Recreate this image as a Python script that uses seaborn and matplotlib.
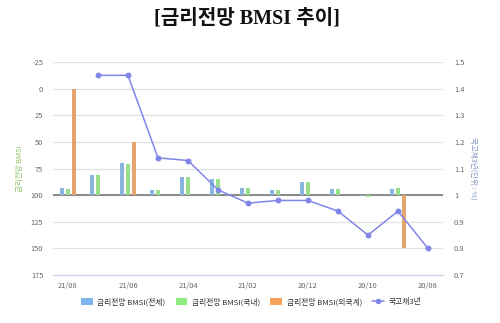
import matplotlib
matplotlib.use("Agg")
import matplotlib.pyplot as plt
import numpy as np
import pandas as pd
import seaborn as sns
from matplotlib.lines import Line2D
from matplotlib.patches import Patch

# Monthly survey points, newest first
months = ["21/08", "21/07", "21/06", "21/05", "21/04", "21/03", "21/02",
          "21/01", "20/12", "20/11", "20/10", "20/09", "20/08"]
bmsi_total = [93, 81, 70, 95, 83, 85, 93, 95, 88, 94, 101, 94, None]
bmsi_domestic = [94, 81, 71, 95, 83, 85, 93, 95, 88, 94, 102, 93, None]
bmsi_foreign = [0, 100, 50, 100, 100, 100, 100, 100, 100, 100, 100, 150, None]
ktb_3y = [None, 1.45, 1.45, 1.14, 1.13, 1.02, 0.97, 0.98, 0.98, 0.94, 0.85, 0.94, 0.80]

series_names = ["금리전망 BMSI(전체)", "금리전망 BMSI(국내)", "금리전망 BMSI(외국계)"]
line_name = "국고채3년"
left_ticks = [-25, 0, 25, 50, 75, 100, 125, 150, 175]
right_ticks = [0.7, 0.8, 0.9, 1.0, 1.1, 1.2, 1.3, 1.4, 1.5]
baseline = 100

bar_colors = ["#7cb5ec", "#90ed7d", "#f7a35c"]
line_color = "#8085e9"

sns.set_theme(style="white")
plt.rcParams["font.family"] = ["Noto Sans CJK KR", "DejaVu Sans"]

# Long-form table for the grouped bars; bars grow from the 100 baseline
rows = []
for name, vals in zip(series_names, [bmsi_total, bmsi_domestic, bmsi_foreign]):
    for m, v in zip(months, vals):
        if v is not None:
            rows.append({"month": m, "series": name, "value": v})
bars = pd.DataFrame(rows)
bars["height"] = bars["value"] - baseline

line_df = pd.DataFrame({"month": months, "rate": ktb_3y}).dropna()

fig = plt.figure(figsize=(5.0, 3.23), dpi=100)
ax = fig.add_axes([0.106, 0.1486, 0.78, 0.6594])

for t in left_ticks:
    ax.axhline(t, color="#e0e0e0", lw=0.9, zorder=0)
ax.axhline(baseline, color="#8a8a8a", lw=1.4, zorder=1.5)

sns.barplot(data=bars, x="month", y="height", hue="series", order=months,
            hue_order=series_names, palette=bar_colors, width=0.6, gap=0.22,
            errorbar=None, bottom=baseline, linewidth=0, zorder=2,
            legend=False, ax=ax)

ax.set_xlim(-0.5, len(months) - 0.5)
ax.set_ylim(175, -25)
ax.set_yticks(left_ticks)
ax.set_yticklabels([str(t) for t in left_ticks])
ax.set_xticks(range(0, len(months), 2))
ax.set_xticklabels(months[::2])
ax.set_xticks(np.arange(0.5, len(months), 2), minor=True)
ax.tick_params(axis="x", which="major", length=0, pad=5, labelsize=5.4, colors="#666666")
ax.tick_params(axis="x", which="minor", length=4, width=0.8, color="#ccd6eb")
ax.tick_params(axis="y", length=0, pad=7, labelsize=5.4, colors="#666666")
for s in ["top", "left", "right"]:
    ax.spines[s].set_visible(False)
ax.spines["bottom"].set_color("#ccd6eb")
ax.spines["bottom"].set_linewidth(0.9)
ax.set_xlabel("")
ax.set_ylabel("금리전망 BMSI", fontsize=5.4, color="#92c26a", labelpad=5)

ax2 = ax.twinx()
sns.pointplot(data=line_df, x="month", y="rate", order=months, color=line_color,
              markers="o", linestyles="-", errorbar=None, markersize=3.4,
              linewidth=1.1, ax=ax2)
ax2.set_xlim(-0.5, len(months) - 0.5)
ax2.set_ylim(0.7, 1.5)
ax2.set_yticks(right_ticks)
ax2.set_yticklabels(["1" if t == 1.0 else f"{t:g}" for t in right_ticks])
ax2.tick_params(axis="y", length=0, pad=8, labelsize=5.4, colors="#666666")
for s in ax2.spines.values():
    s.set_visible(False)
ax2.set_xlabel("")
ax2.set_ylabel("국고채3년(단위 : %)", fontsize=5.4, color="#7f95c0", rotation=270,
               labelpad=9)
ax2.grid(False)

handles = [Patch(facecolor=c, edgecolor="none") for c in bar_colors]
handles.append(Line2D([], [], color=line_color, marker="o", markersize=3, lw=1.1))
labels = series_names + [line_name]
fig.legend(handles, labels, loc="center", bbox_to_anchor=(0.502, 0.065), ncol=4,
           frameon=False, fontsize=5.6, handlelength=1.5, handleheight=1.0,
           columnspacing=1.3, handletextpad=0.6, labelcolor="#333333")

fig.text(0.494, 0.944, "[금리전망 BMSI 추이]", ha="center", va="center",
         fontsize=14.5, fontweight="bold",
         family=["Liberation Serif", "Noto Sans CJK KR"], color="#111111")

fig.savefig("out.png", dpi=100)
